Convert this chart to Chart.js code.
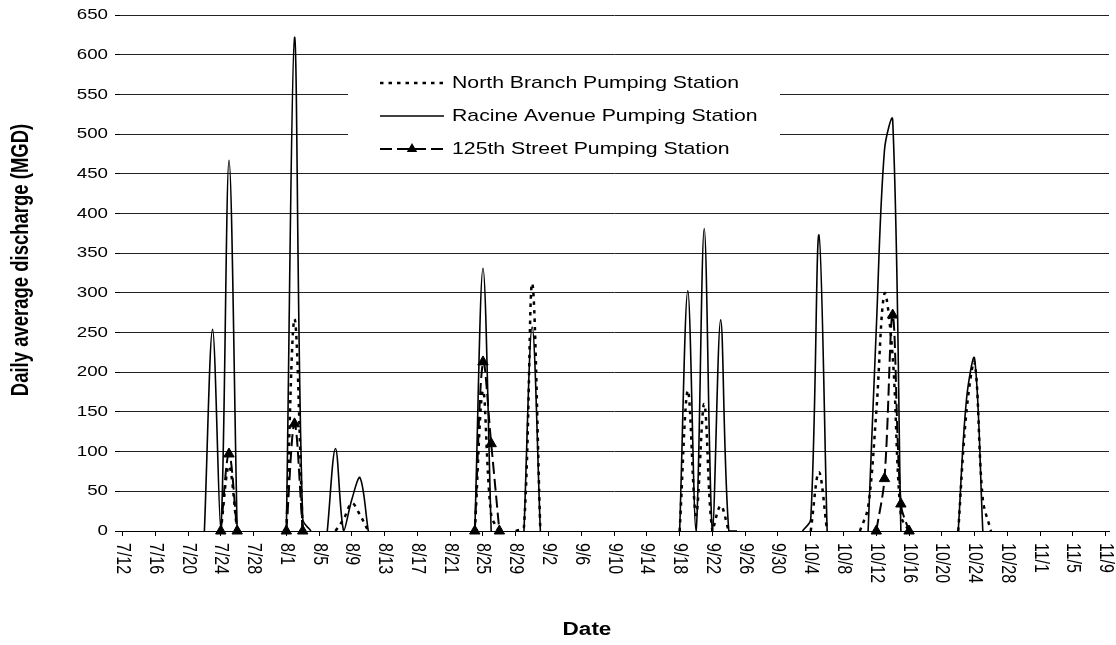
<!DOCTYPE html>
<html>
<head>
<meta charset="utf-8">
<title>Daily average discharge</title>
<style>
    html, body { margin: 0; padding: 0; background: #fff; }
    #wrap { width: 1116px; height: 645px; position: relative; }
</style>
</head>
<body>
<div id="wrap"><canvas id="myChart"></canvas></div>

<script src="https://cdn.jsdelivr.net/npm/chart.js"></script>
<script>
// days that have a reading for at least one station (one group per storm)
const dates = [
    '7/22', '7/23', '7/24', '7/25', '7/26',
    '8/1', '8/2', '8/3', '8/4',
    '8/6', '8/7', '8/8', '8/9', '8/10', '8/11',
    '8/24', '8/25', '8/26', '8/27',
    '8/29', '8/30', '8/31', '9/1',
    '9/18', '9/19', '9/20', '9/21', '9/22', '9/23', '9/24', '9/25',
    '10/3', '10/4', '10/5', '10/6',
    '10/10', '10/11', '10/12', '10/13', '10/14', '10/15', '10/16',
    '10/22', '10/23', '10/24', '10/25', '10/26'
];

const northBranch = [
    null, null, 0, 82, 0,
    0, 267, 0, null,
    null, 0, 15, 35, 20, 0,
    0, 177, 20, 0,
    0, 5, 312, 0,
    0, 177, 20, 160, 0, 32, 0, null,
    null, 0, 74, 0,
    0, 30, 150, 299, 220, 20, 0,
    0, 150, 212, 40, 0
];

const racineAvenue = [
    0, 254, 0, 467, 0,
    0, 622, 15, 0,
    0, 104, 0, 40, 67, 0,
    0, 331, 0, null,
    null, 0, 257, 0,
    0, 303, 0, 381, 0, 266, 0, 0,
    0, 15, 373, 0,
    null, 0, 255, 480, 518, 0, null,
    0, 165, 217, 0, null
];

const street125th = [
    null, null, 0, 97, 0,
    0, 135, 0, null,
    null, null, null, null, null, null,
    0, 213, 110, 0,
    null, null, null, null,
    null, null, null, null, null, null, null, null,
    null, null, null, null,
    null, null, 0, 66, 272, 34, 0,
    null, null, null, null, null
];

const tickLabels = [
    '7/12', '7/16', '7/20', '7/24', '7/28', '8/1', '8/5', '8/9', '8/13', '8/17', '8/21',
    '8/25', '8/29', '9/2', '9/6', '9/10', '9/14', '9/18', '9/22', '9/26', '9/30',
    '10/4', '10/8', '10/12', '10/16', '10/20', '10/24', '10/28', '11/1', '11/5', '11/9'
];

const FONT = "'Liberation Sans', Arial, sans-serif";
const SX = 1.25; // the source picture is stretched sideways, so is its text

function dayIndex(s) {
    const [m, d] = s.split('/').map(Number);
    return Math.round((Date.UTC(2001, m - 1, d) - Date.UTC(2001, 6, 12)) / 86400000);
}

// {x: day, y: value}, with a null between storms so the line breaks
function buildPoints(values) {
    const pts = [];
    let prev = null;
    dates.forEach((s, i) => {
        const d = dayIndex(s);
        if (prev !== null && d - prev > 1)
            pts.push({ x: (prev + d) / 2, y: null });
        pts.push({ x: d, y: values[i] });
        prev = d;
    });
    return pts;
}

function stretchedText(ctx, text, x, y, font, align, baseline, angle) {
    ctx.save();
    ctx.translate(x, y);
    ctx.scale(SX, 1);
    if (angle)
        ctx.rotate(angle);
    ctx.font = font;
    ctx.textAlign = align;
    ctx.textBaseline = baseline;
    ctx.fillText(text, 0, 0);
    ctx.restore();
}

const textPlugin = {
    id: 'excelText',
    afterDraw(chart) {
        const ctx = chart.ctx;
        const xs = chart.scales.x;
        const ys = chart.scales.y;
        ctx.save();
        ctx.fillStyle = '#000';

        ys.ticks.forEach(t => {
            stretchedText(ctx, String(t.value), 108, ys.getPixelForValue(t.value), '15px ' + FONT, 'right', 'middle', 0);
        });
        tickLabels.forEach(l => {
            stretchedText(ctx, l, xs.getPixelForValue(dayIndex(l)), 543, '16px ' + FONT, 'left', 'middle', Math.PI / 2);
        });

        stretchedText(ctx, 'Daily average discharge (MGD)', 22, 260, 'bold 18.5px ' + FONT, 'center', 'middle', -Math.PI / 2);
        stretchedText(ctx, 'Date', 587, 630, 'bold 18px ' + FONT, 'center', 'middle', 0);

        // legend, drawn over the grid like the original
        ctx.fillStyle = '#fff';
        ctx.fillRect(348, 63, 432, 104);
        const rows = [83, 116, 149];
        chart.data.datasets.forEach((ds, i) => {
            const y = rows[i];
            ctx.save();
            ctx.strokeStyle = '#000';
            ctx.lineWidth = ds.borderWidth;
            ctx.setLineDash(ds.borderDash || []);
            ctx.beginPath();
            ctx.moveTo(380, y);
            ctx.lineTo(444, y);
            ctx.stroke();
            if (ds.pointRadius) {
                const r = ds.pointRadius;
                ctx.setLineDash([]);
                ctx.fillStyle = '#000';
                ctx.beginPath();
                ctx.moveTo(412, y - r);
                ctx.lineTo(412 + r * 0.866, y + r / 2);
                ctx.lineTo(412 - r * 0.866, y + r / 2);
                ctx.closePath();
                ctx.fill();
            }
            ctx.restore();
            ctx.fillStyle = '#000';
            stretchedText(ctx, ds.label, 452, y, '17px ' + FONT, 'left', 'middle', 0);
        });
        ctx.restore();
    }
};

const ctx = document.getElementById('myChart');

new Chart(ctx, {
    type: 'line',
    data: {
        datasets: [
            {
                label: 'North Branch Pumping Station',
                data: buildPoints(northBranch),
                borderColor: '#000',
                borderWidth: 2.5,
                borderDash: [3.5, 5],
                pointRadius: 0,
                tension: 0.35,
                fill: false
            }, {
                label: 'Racine Avenue Pumping Station',
                data: buildPoints(racineAvenue),
                borderColor: '#000',
                borderWidth: 1.6,
                pointRadius: 0,
                tension: 0.35,
                fill: false
            }, {
                label: '125th Street Pumping Station',
                data: buildPoints(street125th),
                borderColor: '#000',
                borderWidth: 2,
                borderDash: [12, 5],
                pointStyle: 'triangle',
                pointRadius: 6,
                pointBackgroundColor: '#000',
                pointBorderColor: '#000',
                pointBorderWidth: 1,
                tension: 0.35,
                fill: false,
                clip: false
            }
        ]
    },
    options: {
        responsive: true,
        maintainAspectRatio: false,
        animation: false,
        events: [],
        layout: { padding: { top: 15, right: 1, left: 0, bottom: 0 } },
        plugins: {
            legend: { display: false },
            tooltip: { enabled: false }
        },
        scales: {
            x: {
                type: 'linear',
                min: -0.3,
                max: 120.4,
                afterBuildTicks: scale => {
                    scale.ticks = tickLabels.map(l => ({ value: dayIndex(l) }));
                },
                afterFit: scale => { scale.height = 114; },
                ticks: { display: false },
                grid: {
                    drawOnChartArea: false,
                    drawTicks: true,
                    tickLength: 5,
                    tickColor: '#000'
                },
                border: { display: true, color: '#000', width: 1 }
            },
            y: {
                min: 0,
                max: 650,
                afterFit: scale => { scale.width = 120; },
                ticks: { display: false, stepSize: 50 },
                grid: {
                    color: '#222',
                    lineWidth: 1,
                    drawTicks: true,
                    tickLength: 5,
                    tickColor: '#000'
                },
                border: { display: false }
            }
        }
    },
    plugins: [textPlugin]
});
</script>
</body>
</html>
